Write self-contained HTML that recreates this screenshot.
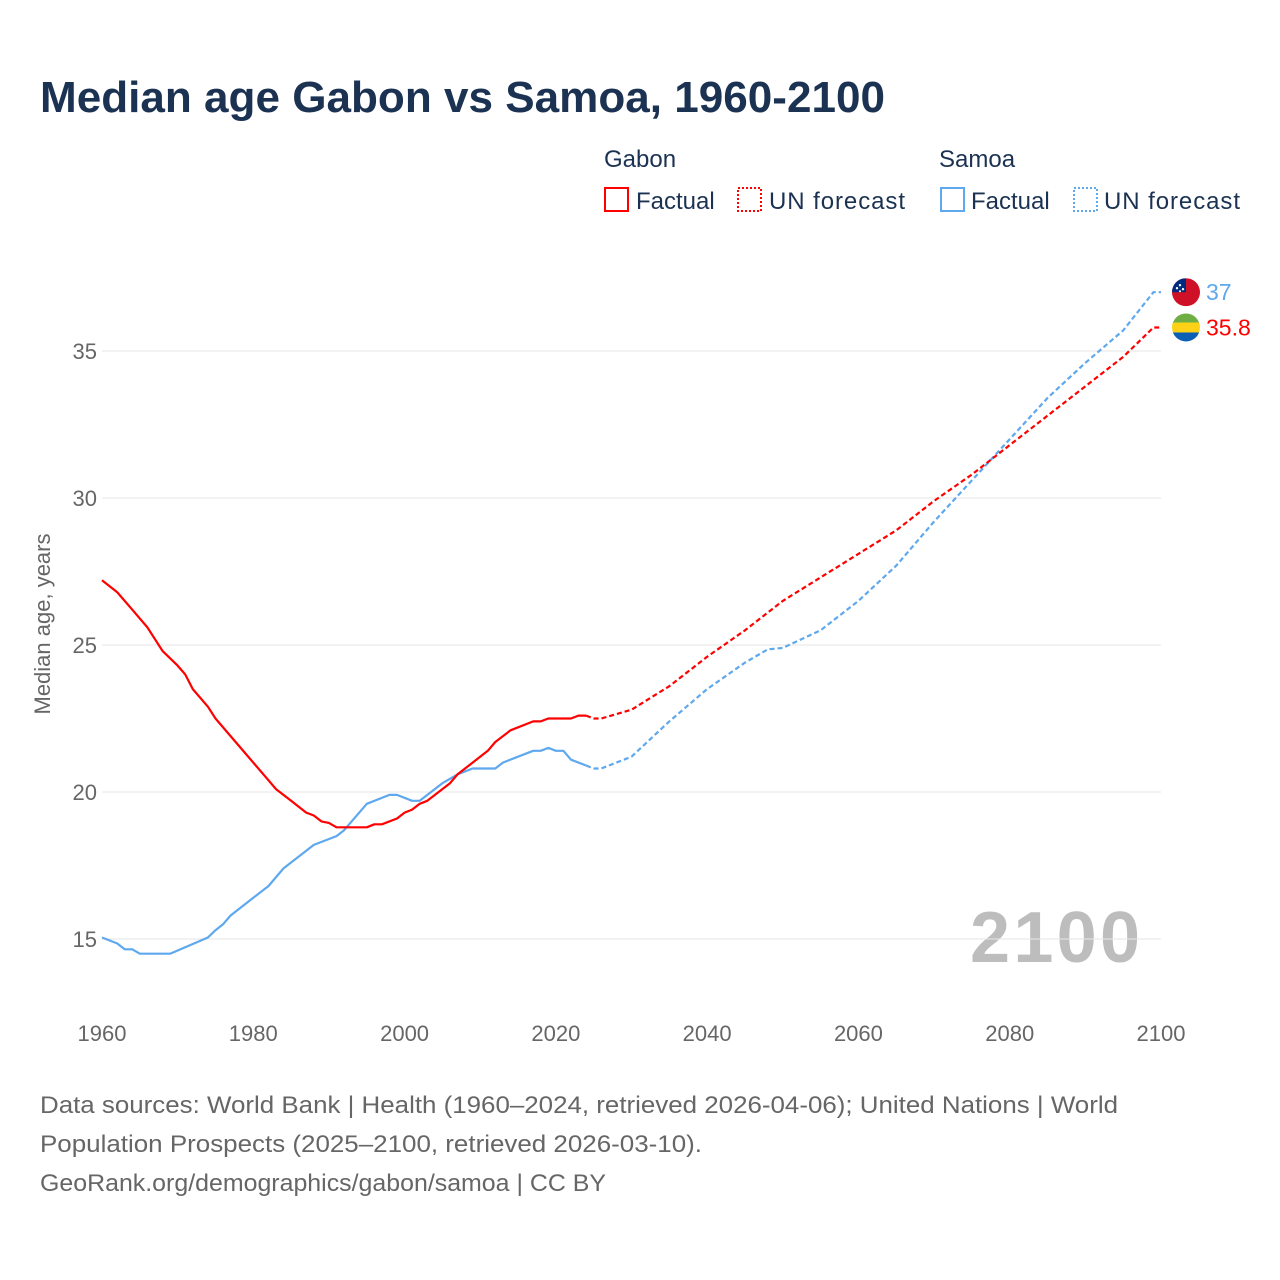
<!DOCTYPE html>
<html><head><meta charset="utf-8"><style>
body{margin:0;background:#fff;font-family:"Liberation Sans",sans-serif;}
#wrap{position:relative;width:1280px;height:1280px;overflow:hidden}
</style></head><body>
<div id="wrap">
<svg id="svg" width="1280" height="1280" style="position:absolute;left:0;top:0;font-family:'Liberation Sans',sans-serif">
<text x="40" y="112" font-size="44" font-weight="bold" fill="#1b3252" textLength="845" lengthAdjust="spacingAndGlyphs">Median age Gabon vs Samoa, 1960-2100</text>
<g font-size="24" fill="#1b3252">
<text x="604" y="167">Gabon</text>
<rect x="605" y="188" width="23" height="23" fill="none" stroke="#f00" stroke-width="2"/>
<text x="636" y="209">Factual</text>
<rect x="738" y="188" width="23" height="23" fill="none" stroke="#f00" stroke-width="2" stroke-dasharray="2,2"/>
<text x="769" y="209" textLength="136">UN forecast</text>
<text x="939" y="167">Samoa</text>
<rect x="941" y="188" width="23" height="23" fill="none" stroke="#5ea8ee" stroke-width="2"/>
<text x="971" y="209">Factual</text>
<rect x="1074" y="188" width="23" height="23" fill="none" stroke="#5ea8ee" stroke-width="2" stroke-dasharray="2,2"/>
<text x="1104" y="209" textLength="136">UN forecast</text>
</g>
<text transform="translate(50,624) rotate(-90)" text-anchor="middle" font-size="22" fill="#666">Median age, years</text>
<text x="1140" y="962" text-anchor="end" font-size="72" font-weight="bold" fill="#bdbdbd" textLength="170">2100</text>
<g id="grid"></g><g id="series"></g><g id="ends"></g>
<g font-size="24" fill="#666">
<text x="40" y="1113" textLength="1078" lengthAdjust="spacingAndGlyphs">Data sources: World Bank | Health (1960–2024, retrieved 2026-04-06); United Nations | World</text>
<text x="40" y="1152" textLength="662" lengthAdjust="spacingAndGlyphs">Population Prospects (2025–2100, retrieved 2026-03-10).</text>
<text x="40" y="1191" textLength="566" lengthAdjust="spacingAndGlyphs">GeoRank.org/demographics/gabon/samoa | CC BY</text>
</g>
</svg>
</div>
<script>
const yTicks=[15,20,25,30,35];
const xTicks=[1960,1980,2000,2020,2040,2060,2080,2100];
const gabonFactYears=[1960,1962,1964,1966,1968,1970,1971,1972,1974,1975,1978,1980,1982,1983,1985,1987,1988,1989,1990,1991,1995,1996,1997,1999,2000,2001,2002,2003,2006,2007,2011,2012,2014,2016,2017,2018,2019,2022,2023,2024];
const gabonFactVals=[27.2,26.8,26.2,25.6,24.8,24.3,24.0,23.5,22.9,22.5,21.6,21.0,20.4,20.1,19.7,19.3,19.2,19.0,18.95,18.8,18.8,18.9,18.9,19.1,19.3,19.4,19.6,19.7,20.3,20.6,21.4,21.7,22.1,22.3,22.4,22.4,22.5,22.5,22.6,22.6];
const gabonFcYears=[2024,2025,2026,2030,2035,2040,2045,2050,2055,2060,2065,2070,2075,2080,2085,2090,2095,2099,2100];
const gabonFcVals=[22.6,22.5,22.5,22.8,23.6,24.6,25.5,26.5,27.3,28.1,28.9,29.9,30.8,31.8,32.8,33.8,34.8,35.8,35.8];
const samoaFactYears=[1960,1962,1963,1964,1965,1969,1974,1975,1976,1977,1980,1982,1984,1988,1991,1992,1995,1998,1999,2001,2002,2005,2007,2009,2012,2013,2017,2018,2019,2020,2021,2022,2024];
const samoaFactVals=[15.05,14.85,14.65,14.65,14.5,14.5,15.05,15.3,15.5,15.8,16.4,16.8,17.4,18.2,18.5,18.7,19.6,19.9,19.9,19.7,19.7,20.3,20.6,20.8,20.8,21.0,21.4,21.4,21.5,21.4,21.4,21.1,20.9];
const samoaFcYears=[2024,2025,2026,2030,2035,2040,2045,2048,2050,2055,2060,2065,2070,2075,2080,2085,2090,2095,2099,2100];
const samoaFcVals=[20.9,20.8,20.8,21.2,22.4,23.5,24.4,24.85,24.9,25.5,26.5,27.7,29.2,30.6,32.0,33.4,34.6,35.7,37.0,37.0];
const NS='http://www.w3.org/2000/svg';
const x=y=>102+(y-1960)*(1059/140);
const yS=v=>939-(v-15)*29.4;
function mk(t,a,p){const e=document.createElementNS(NS,t);for(const k in a)e.setAttribute(k,a[k]);p.appendChild(e);return e;}
const grid=document.getElementById('grid');
yTicks.forEach(v=>{
 const l=mk('line',{x1:102,x2:1161,y1:yS(v),y2:yS(v),stroke:'#e6e6e6','stroke-width':1},grid);
 
 
 const t=mk('text',{x:97,y:yS(v)+8,'text-anchor':'end','font-size':22,fill:'#666'},grid);t.textContent=v;
 
 
});
xTicks.forEach(v=>{
 const t=mk('text',{x:x(v),y:1041,'text-anchor':'middle','font-size':22,fill:'#666'},grid);t.textContent=v;
 
 
});
const S=document.getElementById('series');
function line(ys,vs,col,dash,name){
 const d=ys.map((y,i)=>(i?'L':'M')+x(y).toFixed(1)+','+yS(vs[i]).toFixed(1)).join('');
 const p=mk('path',{d:d,fill:'none',stroke:col,'stroke-width':2.2,'stroke-linejoin':'round'},S);
 if(dash)p.setAttribute('stroke-dasharray','5,3');
 
 
}
line(samoaFactYears,samoaFactVals,'#5ea8ee',false,'samoa-factual-line');
line(samoaFcYears,samoaFcVals,'#5ea8ee',true,'samoa-forecast-line');
line(gabonFactYears,gabonFactVals,'#ff0000',false,'gabon-factual-line');
line(gabonFcYears,gabonFcVals,'#ff0000',true,'gabon-forecast-line');
const E=document.getElementById('ends');
const sy=yS(samoaFcVals[samoaFcVals.length-1]),gy=yS(gabonFcVals[gabonFcVals.length-1]),fx=1186;
E.innerHTML=`<defs><clipPath id="c1"><circle cx="${fx}" cy="${sy}" r="14"/></clipPath><clipPath id="c2"><circle cx="${fx}" cy="${gy}" r="14"/></clipPath></defs>
<g clip-path="url(#c1)"><rect x="${fx-14}" y="${sy-14}" width="28" height="28" fill="#ce1126"/><rect x="${fx-14}" y="${sy-14}" width="14" height="14" fill="#002b7f"/><circle cx="${fx-6}" cy="${sy-7}" r="1.2" fill="#fff"/><circle cx="${fx-9}" cy="${sy-4}" r="1.2" fill="#fff"/><circle cx="${fx-3}" cy="${sy-3}" r="1.2" fill="#fff"/><circle cx="${fx-6}" cy="${sy-1}" r="1" fill="#fff"/></g>
<g clip-path="url(#c2)"><rect x="${fx-14}" y="${gy-14}" width="28" height="10" fill="#6fae45"/><rect x="${fx-14}" y="${gy-5}" width="28" height="10" fill="#fcd116"/><rect x="${fx-14}" y="${gy+5}" width="28" height="10" fill="#0b5fb4"/></g>
<text x="1206" y="${sy+8}" font-size="23" fill="#5ea8ee">${samoaFcVals[samoaFcVals.length-1]}</text>
<text x="1206" y="${gy+8}" font-size="23" fill="#ff0000">${gabonFcVals[gabonFcVals.length-1]}</text>`;
</script>
</body></html>
